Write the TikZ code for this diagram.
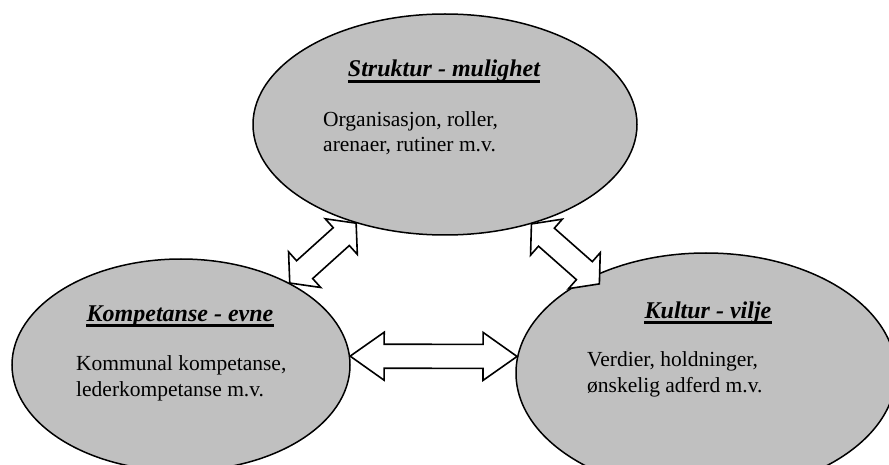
\documentclass[tikz,border=0pt]{standalone}
\usepackage{fontspec}
\setmainfont{Liberation Serif}
\usepackage{tikz}
\usetikzlibrary{shapes.geometric, calc, positioning}
\definecolor{sylv}{HTML}{C0C0C0}

% Dobbel blokkpil mellom to punkter (#1 = pilhodets lengde)
\newcommand{\dobbelpil}[3][20pt]{%
  \draw[pil] (#2)
    -- ($(#2)!#1!(#3)!24pt!90:(#3)$)
    -- ($(#2)!#1!(#3)!12pt!90:(#3)$)
    -- ($(#3)!#1!(#2)!12pt!-90:(#2)$)
    -- ($(#3)!#1!(#2)!24pt!-90:(#2)$)
    -- (#3)
    -- ($(#3)!#1!(#2)!24pt!90:(#2)$)
    -- ($(#3)!#1!(#2)!12pt!90:(#2)$)
    -- ($(#2)!#1!(#3)!12pt!-90:(#3)$)
    -- ($(#2)!#1!(#3)!24pt!-90:(#3)$)
    -- cycle;}

\begin{document}
\begin{tikzpicture}[x=1pt, y=-1pt,
  boble/.style={ellipse, draw, line width=1.5pt, fill=sylv, inner sep=0pt},
  pil/.style={draw, line width=1.6pt, fill=white, line join=miter},
  tittel/.style={font=\fontsize{24}{29}\selectfont\bfseries\itshape, inner sep=0pt, anchor=base},
  tekst/.style={font=\fontsize{21.5}{25.5}\selectfont, align=left, inner sep=0pt, anchor=base west},
  strek/.style={line width=2.2pt}]
  \clip (0,0) rectangle (889,465);

  % Ellipser
  \node[boble, minimum width=384pt, minimum height=221pt] (struk) at (445,124.5) {};
  \node[boble, minimum width=338pt, minimum height=212pt] (komp) at (181,365) {};
  \node[boble, minimum width=380pt, minimum height=240pt] (kult) at (706,373) {};

  % Piler
  \coordinate (kultpil) at ($(kult.140)!-11pt!(struk.311)$);
  \dobbelpil{komp.37}{struk.228}
  \dobbelpil{struk.311}{kultpil}
  \dobbelpil[34pt]{komp.3}{kult.175}

  % Tekster (ankeret sitter paa siste linje)
  \node[tittel] (sttit) at (444,77) {Struktur - mulighet};
  \draw[strek] ([yshift=-4.5pt]sttit.base west) -- ([yshift=-4.5pt]sttit.base east);
  \node[tekst] (sttekst) at (323,152) {Organisasjon, roller,\\arenaer, rutiner m.v.};

  \node[tittel] (kotit) at (180,321) {Kompetanse - evne};
  \draw[strek] ([yshift=-4.5pt]kotit.base west) -- ([yshift=-4.5pt]kotit.base east);
  \node[tekst] (kotekst) at (76,396) {Kommunal kompetanse,\\lederkompetanse m.v.};

  \node[tittel] (kutit) at (708,318) {Kultur - vilje};
  \draw[strek] ([yshift=-4.5pt]kutit.base west) -- ([yshift=-4.5pt]kutit.base east);
  \node[tekst] (kutekst) at (587,392) {Verdier, holdninger,\\ønskelig adferd m.v.};
\end{tikzpicture}
\end{document}
